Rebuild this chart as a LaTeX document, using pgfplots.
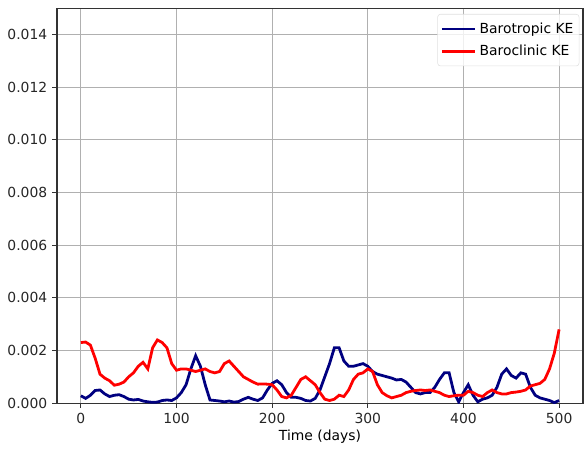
\documentclass[border=0pt]{standalone}
\usepackage{pgfplots}
\pgfplotsset{compat=1.18}
\usepackage{fontspec}
\setmainfont{DejaVu Sans}
\usetikzlibrary{calc}
\definecolor{navyc}{RGB}{0,0,128}
\definecolor{gridc}{RGB}{176,176,176}
\begin{document}
\begin{tikzpicture}
\begin{axis}[
  scale only axis,
  width=378.7pt, height=284.4pt,
  xmin=-25, xmax=525, ymin=0, ymax=0.015,
  xtick={0,100,200,300,400,500},
  ytick={0,0.002,0.004,0.006,0.008,0.010,0.012,0.014},
  scaled y ticks=false,
  yticklabel style={/pgf/number format/.cd, fixed, fixed zerofill, precision=3},
  /pgf/number format/assume math mode=true,
  tick label style={font=\fontsize{10}{12}\selectfont, text=black!85},
  label style={font=\fontsize{10}{12}\selectfont},
  xlabel={Time (days)},
  xlabel style={yshift=2pt},
  grid=major,
  major grid style={gridc, line width=0.8pt},
  axis line style={black!80, line width=0.8pt},
  tick style={black!80, line width=0.8pt},
  tick align=outside, major tick length=3.5pt,
  xtick pos=bottom, ytick pos=left,
  legend style={at={(0.993,0.985)}, anchor=north east, font=\fontsize{10}{12}\selectfont,
    draw=black!12, rounded corners=2pt, fill=white, fill opacity=0.8, text opacity=1,
    row sep=3pt, inner xsep=2pt, inner ysep=4pt},
  legend cell align=left,
  legend image code/.code={\draw[#1] (0cm,0cm) -- (0.85cm,0cm);},
]
\addplot[navyc, line width=2pt] coordinates {
(0,0.00028)(5,0.00018)(10,0.0003)(15,0.00048)(20,0.0005)(25,0.00035)(30,0.00025)(35,0.0003)(40,0.00032)(45,0.00025)
(50,0.00015)(55,0.00012)(60,0.00014)(65,0.00008)(70,0.00005)(75,0.00003)(80,0.00004)(85,0.0001)(90,0.00012)(95,0.0001)
(100,0.0002)(105,0.0004)(110,0.0007)(115,0.0013)(120,0.0018)(125,0.0014)(130,0.0007)(135,0.00012)(140,0.0001)(145,0.00008)
(150,0.00005)(155,0.00008)(160,0.00004)(165,0.00006)(170,0.00015)(175,0.00022)(180,0.00015)(185,0.0001)(190,0.0002)(195,0.0005)
(200,0.00075)(205,0.00085)(210,0.0007)(215,0.0004)(220,0.00022)(225,0.00022)(230,0.00018)(235,0.0001)(240,0.00008)(245,0.00018)
(250,0.0005)(255,0.001)(260,0.0015)(265,0.0021)(270,0.0021)(275,0.0016)(280,0.0014)(285,0.0014)(290,0.00145)(295,0.0015)
(300,0.0014)(305,0.0012)(310,0.0011)(315,0.00105)(320,0.001)(325,0.00095)(330,0.00088)(335,0.0009)(340,0.0008)(345,0.0006)
(350,0.0004)(355,0.00035)(360,0.0004)(365,0.0004)(370,0.0006)(375,0.0009)(380,0.00115)(385,0.00115)(390,0.0004)(395,0.00005)
(400,0.0004)(405,0.0007)(410,0.0003)(415,0.00005)(420,0.00015)(425,0.0002)(430,0.0003)(435,0.0006)(440,0.0011)(445,0.0013)
(450,0.00105)(455,0.00095)(460,0.00115)(465,0.0011)(470,0.0006)(475,0.0003)(480,0.0002)(485,0.00015)(490,0.0001)(495,0.00002)
(500,0.0001)};
\addlegendentry{Barotropic KE}
\addplot[red, line width=2pt] coordinates {
(0,0.0023)(5,0.00232)(10,0.0022)(15,0.0017)(20,0.0011)(25,0.00095)(30,0.00085)(35,0.00068)(40,0.00072)(45,0.0008)
(50,0.001)(55,0.00115)(60,0.0014)(65,0.00155)(70,0.0013)(75,0.0021)(80,0.0024)(85,0.0023)(90,0.0021)(95,0.0015)
(100,0.00125)(105,0.0013)(110,0.0013)(115,0.00125)(120,0.0012)(125,0.00125)(130,0.0013)(135,0.0012)(140,0.00115)(145,0.0012)
(150,0.0015)(155,0.0016)(160,0.0014)(165,0.0012)(170,0.001)(175,0.0009)(180,0.0008)(185,0.00072)(190,0.00073)(195,0.00072)
(200,0.0007)(205,0.0005)(210,0.00025)(215,0.0002)(220,0.0003)(225,0.0006)(230,0.0009)(235,0.001)(240,0.00085)(245,0.0007)
(250,0.0004)(255,0.00015)(260,0.0001)(265,0.00015)(270,0.0003)(275,0.00025)(280,0.0005)(285,0.0009)(290,0.0011)(295,0.00115)
(300,0.0013)(305,0.0012)(310,0.0007)(315,0.0004)(320,0.00028)(325,0.0002)(330,0.00025)(335,0.0003)(340,0.0004)(345,0.00045)
(350,0.00048)(355,0.0005)(360,0.00048)(365,0.0005)(370,0.00045)(375,0.0004)(380,0.0003)(385,0.00025)(390,0.00028)(395,0.0003)
(400,0.0003)(405,0.00045)(410,0.0004)(415,0.0003)(420,0.00025)(425,0.0004)(430,0.0005)(435,0.0004)(440,0.00035)(445,0.00035)
(450,0.0004)(455,0.00042)(460,0.00045)(465,0.0005)(470,0.00065)(475,0.0007)(480,0.00075)(485,0.0009)(490,0.0013)(495,0.0019)
(500,0.0028)};
\addlegendentry{Baroclinic KE}
\end{axis}
\path[use as bounding box] ($(current axis.south west)+(-41pt,-34.6pt)$) rectangle ($(current axis.north east)+(0.7pt,5.8pt)$);
\end{tikzpicture}
\end{document}
